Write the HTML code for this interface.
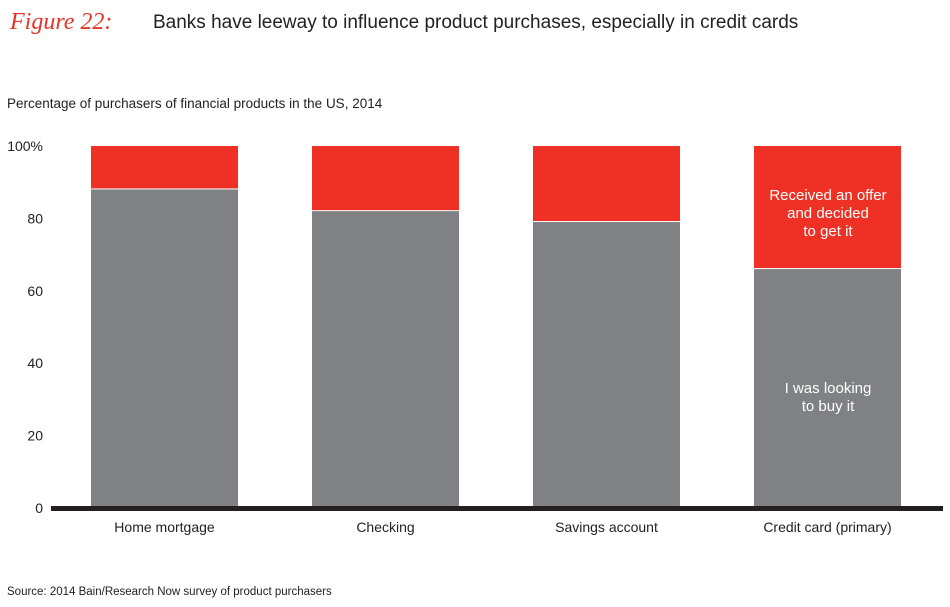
<!DOCTYPE html>
<html><head><meta charset="utf-8"><style>
body{margin:0;background:#fff;width:950px;height:602px;overflow:hidden;font-family:"Liberation Sans",sans-serif;}
</style></head><body>
<svg width="950" height="602" xmlns="http://www.w3.org/2000/svg">
<text x="10" y="29" font-family="Liberation Serif,serif" font-style="italic" font-size="24" fill="#e8332a">Figure 22:</text>
<text x="153" y="28" font-size="19" fill="#222">Banks have leeway to influence product purchases, especially in credit cards</text>
<text x="7" y="108" font-size="13.5" fill="#222">Percentage of purchasers of financial products in the US, 2014</text>
<g id="ticks"></g>
<g id="bars"></g>
<rect x="51" y="506" width="892" height="5" fill="#231f20"/>
<g id="xlabels"></g>
<text x="828" y="200" font-size="15" fill="#fff" text-anchor="middle"><tspan x="828">Received an offer</tspan><tspan x="828" dy="18">and decided</tspan><tspan x="828" dy="18">to get it</tspan></text>
<text x="828" y="393" font-size="15" fill="#fff" text-anchor="middle"><tspan x="828">I was looking</tspan><tspan x="828" dy="18">to buy it</tspan></text>
<text x="7" y="595" font-size="11.5" fill="#222">Source: 2014 Bain/Research Now survey of product purchasers</text>
</svg>
<script>
const categories=["Home mortgage","Checking","Savings account","Credit card (primary)"];
const looking=[88,82,79,66];
const offer=[12,18,21,34];
const tickValues=[0,20,40,60,80,100];
const tickLabels=["0","20","40","60","80","100%"];
const NS="http://www.w3.org/2000/svg";
const y0=508,y100=146;
function yScale(v){return y0-(y0-y100)*v/100;}
function xScale(i){return 91+221*i;}
const bw=147;
function mk(t,a){const e=document.createElementNS(NS,t);for(const k in a)e.setAttribute(k,a[k]);return e;}
const tg=document.getElementById('ticks');
tickValues.forEach((v,i)=>{const t=mk('text',{x:43,y:yScale(v)+5,'font-size':14,fill:'#222','text-anchor':'end'});


t.textContent=tickLabels[i];tg.appendChild(t);});
const bg=document.getElementById('bars'),xg=document.getElementById('xlabels');
categories.forEach((c,i)=>{
const x=xScale(i);
const g=mk('rect',{x:x,y:yScale(looking[i]),width:bw,height:yScale(0)-yScale(looking[i]),fill:'#808184'});


bg.appendChild(g);
const r=mk('rect',{x:x,y:yScale(looking[i]+offer[i]),width:bw,height:yScale(looking[i])-yScale(looking[i]+offer[i])-1,fill:'#ee3124'});


bg.appendChild(r);
const t=mk('text',{x:x+bw/2,y:532,'font-size':14,fill:'#222','text-anchor':'middle'});


t.textContent=c;xg.appendChild(t);
});
</script>
</body></html>
